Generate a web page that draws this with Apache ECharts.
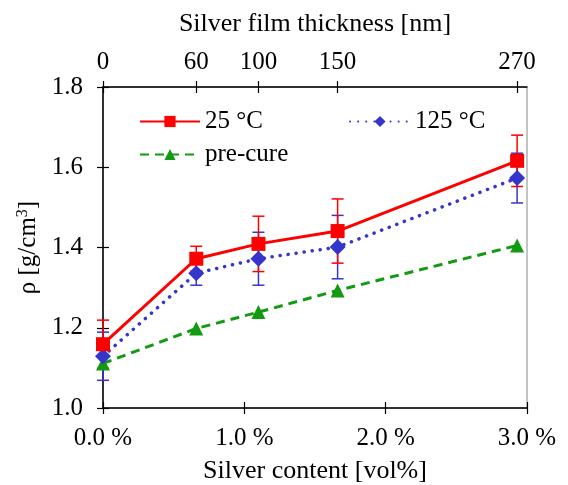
<!DOCTYPE html>
<html>
<head>
<meta charset="utf-8">
<script src="https://cdn.jsdelivr.net/npm/echarts@6/dist/echarts.min.js"></script>
<style>
  html, body { margin: 0; padding: 0; background: #fff; }
  #main { width: 568px; height: 485px; }
</style>
</head>
<body>
<div id="main"></div>
<script>
var chart = echarts.init(document.getElementById('main'));

// silver content [vol%] of each sample, and matching film thickness [nm]
var silverContent = [0, 0.66, 1.10, 1.66, 2.93];
var thickness = [0, 60, 100, 150, 270];

var rho25 = [1.159, 1.372, 1.409, 1.441, 1.616];
var err25 = [0.06, 0.031, 0.069, 0.08, 0.064];
var rho125 = [1.129, 1.336, 1.372, 1.401, 1.573];
var err125 = [0.06, 0.03, 0.066, 0.079, 0.062];
var rhoPre = [1.111, 1.198, 1.239, 1.293, 1.405];

var FONT = 'Liberation Serif';
var RED = '#ff0000', BLUE = '#3535cc', GREEN = '#129a12';

function pts(vals) {
    var out = [];
    for (var i = 0; i < vals.length; i++) out.push([silverContent[i], vals[i]]);
    return out;
}
function errPts(vals, errs) {
    var out = [];
    for (var i = 0; i < vals.length; i++) out.push([silverContent[i], vals[i] - errs[i], vals[i] + errs[i]]);
    return out;
}
function errRender(color) {
    return function (params, api) {
        var x = api.value(0);
        var lo = api.coord([x, api.value(1)]);
        var hi = api.coord([x, api.value(2)]);
        var w = 6;
        var st = { stroke: color, lineWidth: 1.5 };
        return {
            type: 'group',
            children: [
                { type: 'line', shape: { x1: lo[0], y1: lo[1], x2: hi[0], y2: hi[1] }, style: st },
                { type: 'line', shape: { x1: lo[0] - w, y1: lo[1], x2: lo[0] + w, y2: lo[1] }, style: st },
                { type: 'line', shape: { x1: hi[0] - w, y1: hi[1], x2: hi[0] + w, y2: hi[1] }, style: st }
            ]
        };
    };
}

var gridPos = { left: 103, right: 41, top: 87, bottom: 77, outerBoundsMode: 'none' };
var axisLineSt = { show: true, lineStyle: { color: '#000', width: 1.5 } };
var lblSt = { fontFamily: FONT, fontSize: 25, color: '#000' };
var legendText = { fontFamily: FONT, fontSize: 25, color: '#000' };

function topFmt(v) {
    var i = silverContent.indexOf(v);
    return i >= 0 ? String(thickness[i]) : '';
}

chart.setOption({
    animation: false,
    textStyle: { fontFamily: FONT },
    grid: [
        Object.assign({ show: true, borderColor: '#888', borderWidth: 1 }, gridPos),
        Object.assign({}, gridPos)
    ],
    legend: [
        { data: ['25 °C'], left: 134, top: 104, itemWidth: 60, itemHeight: 14, textStyle: legendText },
        { data: ['125 °C'], left: 344, top: 104, itemWidth: 60, itemHeight: 14, textStyle: legendText },
        { data: ['pre-cure'], left: 134, top: 137, itemWidth: 60, itemHeight: 14, textStyle: legendText }
    ],
    xAxis: [
        { type: 'value', gridIndex: 0, position: 'bottom', min: 0, max: 3, interval: 1,
          axisLine: axisLineSt, splitLine: { show: false },
          axisTick: { show: true, inside: false, length: 6, lineStyle: { color: '#000', width: 1.2 } },
          axisLabel: Object.assign({ margin: 18, formatter: function (v) { return v.toFixed(1) + ' %'; } }, lblSt),
          name: 'Silver content [vol%]', nameLocation: 'middle', nameGap: 50,
          nameTextStyle: Object.assign({}, lblSt, { fontSize: 26 }) },
        { type: 'value', gridIndex: 0, position: 'top', min: 0, max: 3,
          axisLine: axisLineSt, splitLine: { show: false },
          axisTick: { show: true, inside: false, length: 6, customValues: silverContent, lineStyle: { color: '#000', width: 1.2 } },
          axisLabel: Object.assign({ margin: 12, customValues: silverContent, formatter: topFmt }, lblSt),
          name: 'Silver film thickness [nm]', nameLocation: 'middle', nameGap: 50,
          nameTextStyle: Object.assign({}, lblSt, { fontSize: 26 }) },
        { type: 'value', gridIndex: 1, position: 'bottom', min: 0, max: 3, interval: 1,
          axisLine: { show: false }, splitLine: { show: false }, axisLabel: { show: false },
          axisTick: { show: true, inside: true, length: 6, lineStyle: { color: '#000', width: 1.2 } } },
        { type: 'value', gridIndex: 1, position: 'top', min: 0, max: 3,
          axisLine: { show: false }, splitLine: { show: false }, axisLabel: { show: false },
          axisTick: { show: true, inside: true, length: 6, customValues: silverContent, lineStyle: { color: '#000', width: 1.2 } } }
    ],
    yAxis: [
        { type: 'value', gridIndex: 0, position: 'left', min: 1.0, max: 1.8, interval: 0.2,
          axisLine: axisLineSt, splitLine: { show: false },
          axisTick: { show: true, inside: false, length: 6, lineStyle: { color: '#000', width: 1.2 } },
          axisLabel: Object.assign({ margin: 20, formatter: function (v) { return v.toFixed(1); } }, lblSt),
          name: 'ρ [g/cm{sup|3}]', nameLocation: 'middle', nameGap: 62, nameRotate: 90,
          nameTextStyle: Object.assign({}, lblSt, {
              rich: { sup: { fontFamily: FONT, fontSize: 16, color: '#000', verticalAlign: 'top', padding: [0, 0, 10, 0] } }
          }) },
        { type: 'value', gridIndex: 1, position: 'left', min: 1.0, max: 1.8, interval: 0.2,
          axisLine: { show: false }, splitLine: { show: false }, axisLabel: { show: false },
          axisTick: { show: true, inside: true, length: 6, lineStyle: { color: '#000', width: 1.2 } } }
    ],
    series: [
        { name: 'pre-cure', type: 'line', xAxisIndex: 0, yAxisIndex: 0, data: pts(rhoPre),
          symbol: 'triangle', symbolSize: 14, color: GREEN,
          lineStyle: { color: GREEN, width: 3, type: [9, 6] }, itemStyle: { color: GREEN } },
        { name: '125 °C err', type: 'custom', xAxisIndex: 0, yAxisIndex: 0, data: errPts(rho125, err125),
          renderItem: errRender(BLUE), z: 3 },
        { name: '125 °C', type: 'line', xAxisIndex: 0, yAxisIndex: 0, data: pts(rho125),
          symbol: 'diamond', symbolSize: 16, color: BLUE,
          lineStyle: { color: BLUE, width: 3.5, type: [0.1, 8], cap: 'round' }, itemStyle: { color: BLUE } },
        { name: '25 °C err', type: 'custom', xAxisIndex: 0, yAxisIndex: 0, data: errPts(rho25, err25),
          renderItem: errRender(RED), z: 3 },
        { name: '25 °C', type: 'line', xAxisIndex: 0, yAxisIndex: 0, data: pts(rho25),
          symbol: 'rect', symbolSize: 14, color: RED,
          lineStyle: { color: RED, width: 3 }, itemStyle: { color: RED } }
    ]
});
</script>
</body>
</html>
